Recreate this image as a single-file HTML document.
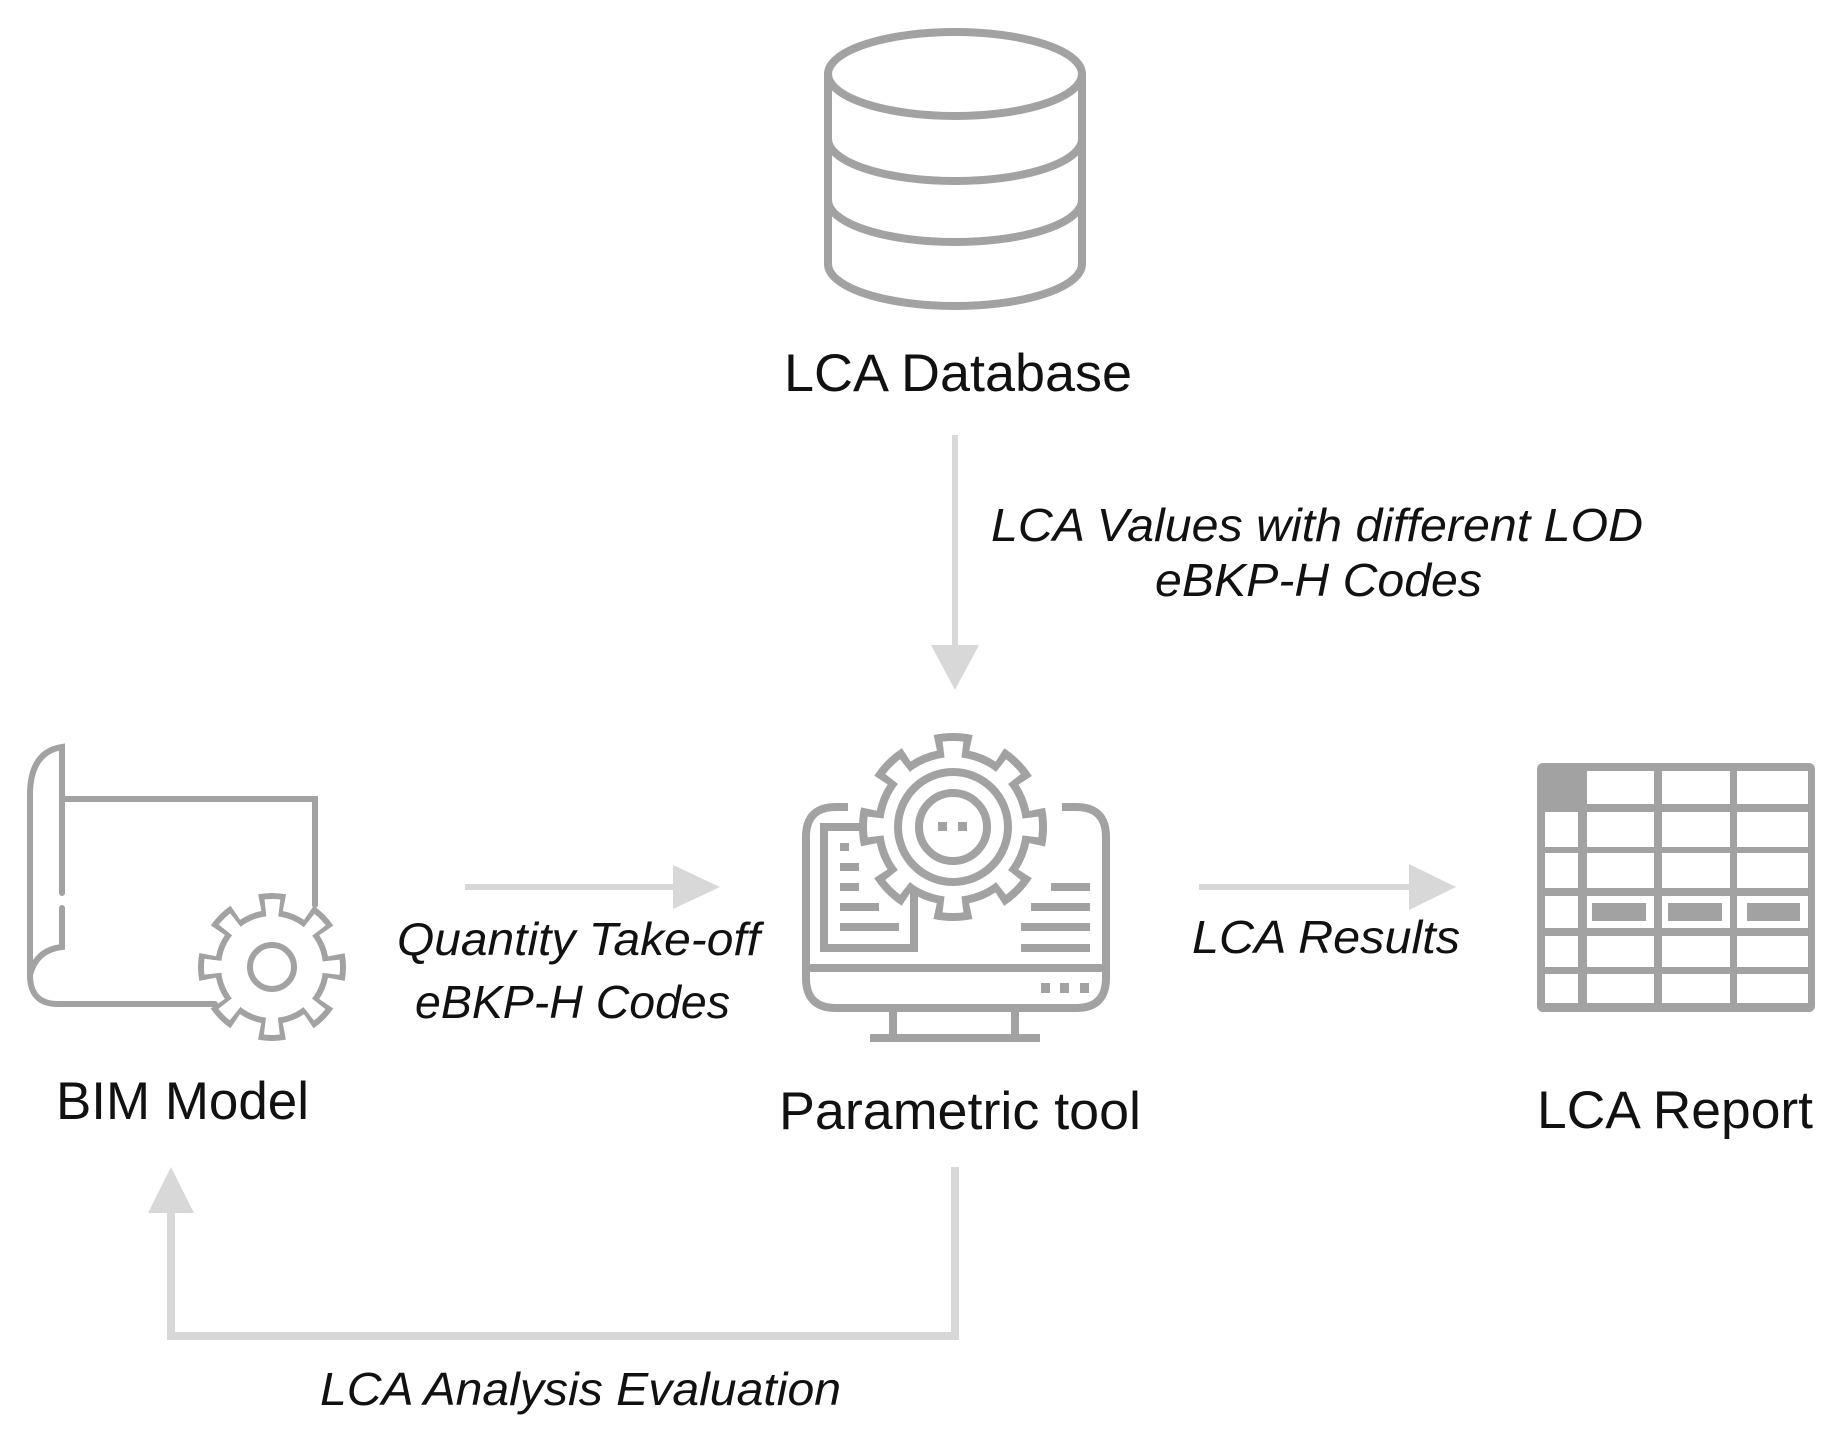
<!DOCTYPE html>
<html><head><meta charset="utf-8"><style>
html,body{margin:0;padding:0;background:#fff;}
svg{display:block;}
.t{font-family:"Liberation Sans",sans-serif;fill:#111;}
.i{font-family:"Liberation Sans",sans-serif;font-style:italic;fill:#111;}
</style></head><body>
<svg width="1845" height="1446" viewBox="0 0 1845 1446" xmlns="http://www.w3.org/2000/svg">
<rect width="1845" height="1446" fill="#fff"/>
<!-- Database -->
<g fill="none" stroke="#a2a2a2" stroke-width="8">
<ellipse cx="955" cy="74" rx="127" ry="42"/>
<path d="M828 74 V264 A127 42 0 0 0 1082 264 V74"/>
<path d="M828 139 A127 42 0 0 0 1082 139"/>
<path d="M828 200 A127 42 0 0 0 1082 200"/>
</g>
<text class="t" x="958" y="391" font-size="53" text-anchor="middle" textLength="348" lengthAdjust="spacingAndGlyphs">LCA Database</text>

<!-- down arrow -->
<line x1="955" y1="435" x2="955" y2="650" stroke="#d8d8d8" stroke-width="6"/>
<polygon points="931,645 979,645 955,690" fill="#d8d8d8"/>
<text class="i" x="991" y="541" font-size="46" textLength="652" lengthAdjust="spacingAndGlyphs">LCA Values with different LOD</text>
<text class="i" x="1155" y="596" font-size="46" textLength="327" lengthAdjust="spacingAndGlyphs">eBKP-H Codes</text>

<!-- BIM model -->
<g fill="none" stroke="#a2a2a2" stroke-width="6" stroke-linecap="round">
<path d="M62 893 V747 Q30 752 30 795 V975 Q30 1004 58 1004 H215"/>
<path d="M62 908 V947 Q36 950 30 975"/>
<path d="M62 799 H315 V905"/>
</g>
<g transform="translate(272,967)">
<circle r="57" fill="#a2a2a2"/>
<circle r="61.5" fill="none" stroke="#a2a2a2" stroke-width="25" stroke-dasharray="23.3 25" stroke-dashoffset="11.65"/>
<circle r="51" fill="#fff"/>
<circle r="55.5" fill="none" stroke="#fff" stroke-width="25" stroke-dasharray="13.1 30.5" stroke-dashoffset="6.55"/>
<circle r="22" fill="none" stroke="#a2a2a2" stroke-width="6"/>
</g>
<text class="t" x="56" y="1119" font-size="53" textLength="253" lengthAdjust="spacingAndGlyphs">BIM Model</text>

<!-- arrow 1 -->
<line x1="465" y1="887" x2="680" y2="887" stroke="#d8d8d8" stroke-width="6"/>
<polygon points="673,865 673,909 720,887" fill="#d8d8d8"/>
<text class="i" x="397" y="955" font-size="46" textLength="363" lengthAdjust="spacingAndGlyphs">Quantity Take-off</text>
<text class="i" x="415" y="1018" font-size="46" textLength="315" lengthAdjust="spacingAndGlyphs">eBKP-H Codes</text>

<!-- Monitor -->
<g fill="none" stroke="#a2a2a2" stroke-width="8">
<path d="M848 807 H836 Q806 807 806 837 V978 Q806 1008 836 1008 H1076 Q1106 1008 1106 978 V837 Q1106 807 1076 807 H1062"/>
<line x1="806" y1="968" x2="1106" y2="968"/>
<line x1="893" y1="1008" x2="893" y2="1038"/>
<line x1="1015" y1="1008" x2="1015" y2="1038"/>
<line x1="870" y1="1038" x2="1040" y2="1038"/>
<path d="M870 827 H824 V948 H914 V880"/>
</g>
<g fill="#a2a2a2">
<rect x="1041" y="983" width="9" height="10"/><rect x="1060" y="983" width="9" height="10"/><rect x="1080" y="983" width="9" height="10"/>
<rect x="840" y="843" width="9" height="8"/>
<rect x="840" y="863" width="19" height="8"/>
<rect x="840" y="883" width="19" height="8"/>
<rect x="840" y="903" width="39" height="8"/>
<rect x="840" y="923" width="59" height="8"/>
<rect x="1051" y="883" width="39" height="8"/>
<rect x="1031" y="903" width="59" height="8"/>
<rect x="1021" y="923" width="69" height="8"/>
<rect x="1021" y="944" width="69" height="8"/>
</g>
<g transform="translate(953,827)">
<circle r="78" fill="#a2a2a2"/>
<circle r="82" fill="none" stroke="#a2a2a2" stroke-width="24" stroke-dasharray="34.3 30.1" stroke-dashoffset="17.15"/>
<circle r="70" fill="#fff"/>
<circle r="74" fill="none" stroke="#fff" stroke-width="24" stroke-dasharray="18 40.1" stroke-dashoffset="9"/>
<circle r="55" fill="none" stroke="#a2a2a2" stroke-width="8"/>
<circle r="34" fill="none" stroke="#a2a2a2" stroke-width="8"/>
<rect x="-15" y="-5" width="9" height="9" fill="#a2a2a2"/>
<rect x="5" y="-5" width="9" height="9" fill="#a2a2a2"/>
</g>
<text class="t" x="960" y="1129" font-size="53" text-anchor="middle" textLength="362" lengthAdjust="spacingAndGlyphs">Parametric tool</text>

<!-- arrow 2 -->
<line x1="1199" y1="887" x2="1415" y2="887" stroke="#d8d8d8" stroke-width="6"/>
<polygon points="1409,864 1409,910 1456,887" fill="#d8d8d8"/>
<text class="i" x="1192" y="953" font-size="46" textLength="268" lengthAdjust="spacingAndGlyphs">LCA Results</text>

<!-- Table -->
<rect x="1537" y="763" width="278" height="249" rx="6" fill="#a2a2a2"/>
<g fill="#fff">
<rect x="1587" y="771" width="67" height="33"/><rect x="1662" y="771" width="68" height="33"/><rect x="1737" y="771" width="71" height="33"/>
<rect x="1545" y="812" width="33" height="35"/><rect x="1587" y="812" width="67" height="35"/><rect x="1662" y="812" width="68" height="35"/><rect x="1737" y="812" width="71" height="35"/>
<rect x="1545" y="853" width="33" height="35"/><rect x="1587" y="853" width="67" height="35"/><rect x="1662" y="853" width="68" height="35"/><rect x="1737" y="853" width="71" height="35"/>
<rect x="1545" y="896" width="33" height="32"/><rect x="1587" y="896" width="67" height="32"/><rect x="1662" y="896" width="68" height="32"/><rect x="1737" y="896" width="71" height="32"/>
<rect x="1545" y="936" width="33" height="31"/><rect x="1587" y="936" width="67" height="31"/><rect x="1662" y="936" width="68" height="31"/><rect x="1737" y="936" width="71" height="31"/>
<rect x="1545" y="974" width="33" height="29"/><rect x="1587" y="974" width="67" height="29"/><rect x="1662" y="974" width="68" height="29"/><rect x="1737" y="974" width="71" height="29"/>
</g>
<g fill="#a2a2a2">
<rect x="1592" y="903" width="54" height="18"/><rect x="1668" y="903" width="54" height="18"/><rect x="1747" y="903" width="53" height="18"/>
</g>
<text class="t" x="1537" y="1128" font-size="53" textLength="276" lengthAdjust="spacingAndGlyphs">LCA Report</text>

<!-- feedback arrow -->
<path d="M955 1167 V1336 H171 V1205" fill="none" stroke="#d8d8d8" stroke-width="8"/>
<polygon points="148,1213 194,1213 171,1167" fill="#d8d8d8"/>
<text class="i" x="320" y="1405" font-size="46" textLength="521" lengthAdjust="spacingAndGlyphs">LCA Analysis Evaluation</text>
</svg>
</body></html>
